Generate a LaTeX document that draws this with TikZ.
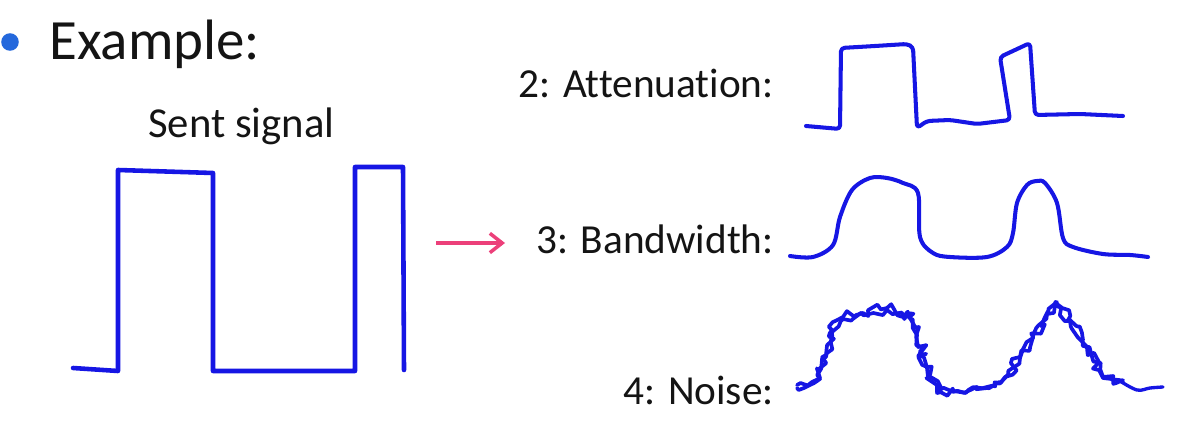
\documentclass[tikz,border=0pt]{standalone}
\usepackage{fontspec}
\setmainfont{Carlito}[Ligatures=NoCommon]
\usetikzlibrary{arrows.meta,decorations.pathmorphing}
\definecolor{sigblue}{RGB}{22,22,228}
\definecolor{dotblue}{RGB}{36,104,220}
\definecolor{arrowpink}{RGB}{236,64,122}
\definecolor{txt}{RGB}{20,20,20}
\tikzset{
  lbl/.style={inner sep=0pt,text=txt,font=\fontsize{23.5}{28}\selectfont},
  wave/.style={draw=sigblue,line width=2.3pt,line join=round,line cap=round},
  noisy/.style={wave,line width=2.1pt,decorate,
    decoration={random steps,segment length=2.6pt,amplitude=3.2pt}}
}
\begin{document}
\begin{tikzpicture}[x=0.02cm,y=-0.02cm]
  \useasboundingbox (0,0) rectangle (1177,435);
  % heading
  \node[circle,fill=dotblue,minimum size=10pt,inner sep=0pt] (dot) at (10,42) {};
  \node[lbl,anchor=base west,font=\fontsize{32.4}{38}\selectfont] (example) at (49,60) {Example:};
  \node[lbl,anchor=base west,font=\fontsize{24.3}{29}\selectfont] (sent) at (148,138) {Sent signal};
  % the three received signals
  \node[lbl,anchor=base east] (atten) at (774,98) {2: Attenuation:};
  \node[lbl,anchor=base east] (band) at (774,254) {3: Bandwidth:};
  \node[lbl,anchor=base east] (noise) at (774,405) {4: Noise:};
  % sent signal
  \draw[wave,line width=2.6pt] (73,368) -- (118,371) -- (118,170) -- (213,173) -- (213,371)
    -- (355,371) -- (355,167) -- (403,167) -- (404,370);
  % arrow
  \coordinate (from) at (436,243);
  \coordinate (to) at (505,243);
  \draw[arrowpink,line width=2pt,-{Straight Barb[length=7pt,width=11pt]}] (from) -- (to);
  % attenuation
  \draw[wave,rounded corners=2pt] (806,126) -- (840,129) -- (841,48) -- (875,46) -- (907,44)
    -- (913,47) -- (917,128) -- (927,121) -- (950,120) -- (977,124) -- (1010,120)
    -- (1000,57) -- (1030,43) -- (1035,115) -- (1080,114) -- (1123,116);
  % bandwidth
  \draw[wave] plot[smooth,tension=0.55] coordinates {(790,256) (813,257) (833,245) (840,217)
    (852,190) (870,178) (887,178) (903,183) (918,193) (920,237) (933,253) (950,257)
    (987,257) (1007,247) (1013,233) (1017,203) (1027,185) (1037,181) (1045,183)
    (1057,203) (1063,238) (1073,247) (1103,254) (1130,255) (1148,257)};
  % noise
  \pgfmathsetseed{7}
  \draw[noisy] (797,385) -- (812,382) -- (820,378) -- (826,355) -- (832,330)
    -- (843,317) -- (863,313) -- (887,308) -- (907,313) -- (917,333) -- (927,367)
    -- (937,393) -- (953,390) -- (987,387) -- (1005,377) -- (1020,357) -- (1033,337)
    -- (1047,313) -- (1057,302) -- (1070,320) -- (1087,347) -- (1103,377) -- (1123,380);
  \pgfmathsetseed{23}
  \draw[noisy,decoration={random steps,segment length=3.2pt,amplitude=2.6pt}]
    (797,388) -- (812,384) -- (820,379) -- (826,357) -- (832,332) -- (843,319)
    -- (863,315) -- (887,310) -- (907,315) -- (917,335) -- (927,368) -- (937,392)
    -- (953,391) -- (987,388) -- (1005,378) -- (1020,358) -- (1033,338) -- (1047,314)
    -- (1057,304) -- (1070,321) -- (1087,348) -- (1103,378) -- (1123,381);
  \draw[wave,line width=1.9pt] plot[smooth,tension=0.6] coordinates {(1120,381) (1137,390)
    (1150,388) (1163,387)};
\end{tikzpicture}
\end{document}
